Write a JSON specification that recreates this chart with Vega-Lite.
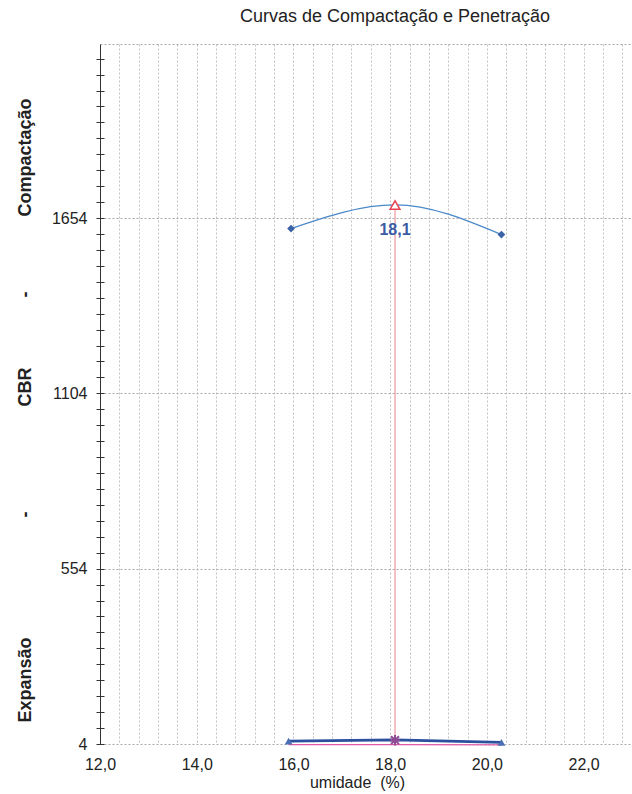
{
  "$schema": "https://vega.github.io/schema/vega-lite/v6.json",
  "width": 532,
  "height": 700,
  "autosize": {"type": "none"},
  "padding": {"left": 100, "top": 44, "right": 0, "bottom": 50},
  "background": "white",
  "title": {"text": "Curvas de Compactação e Penetração", "fontSize": 18, "fontWeight": "normal", "font": "Liberation Sans", "color": "#222222", "anchor": "middle", "dx": 29, "offset": 18},
  "config": {"view": {"stroke": null}},
  "datasets": {
    "compactacao": [{"umidade": 15.95, "valor": 1621}, {"umidade": 18.1, "valor": 1695}, {"umidade": 20.3, "valor": 1602}],
    "pontos": [{"umidade": 15.95, "valor": 1621}, {"umidade": 20.3, "valor": 1602}],
    "maximo": [{"umidade": 18.1, "valor": 1695, "rotulo": "18,1"}],
    "cbr": [{"umidade": 15.9, "valor": 13}, {"umidade": 18.1, "valor": 17}, {"umidade": 20.3, "valor": 9}],
    "cbrmax": [{"umidade": 18.1, "valor": 16}],
    "expansao": [{"umidade": 15.9, "valor": 2}, {"umidade": 18.1, "valor": 2}, {"umidade": 20.3, "valor": 1.5}]
  },
  "resolve": {"axis": {"x": "independent", "y": "independent"}},
  "layer": [
    {
      "data": {"name": "pontos"},
      "mark": {"type": "point", "opacity": 0},
      "encoding": {
        "x": {"field": "umidade", "type": "quantitative", "scale": {"domain": [12, 23], "nice": false, "zero": false},
          "axis": {"orient": "bottom", "values": [12, 12.4, 12.8, 13.2, 13.6, 14, 14.4, 14.8, 15.2, 15.6, 16, 16.4, 16.8, 17.2, 17.6, 18, 18.4, 18.8, 19.2, 19.6, 20, 20.4, 20.8, 21.2, 21.6, 22, 22.4, 22.8],
            "grid": true, "gridColor": "#c2c2c2", "gridDash": [2, 2], "gridWidth": 1, "labels": false, "ticks": false, "domain": false, "title": null}},
        "y": {"field": "valor", "type": "quantitative", "scale": {"domain": [4, 2200], "nice": false, "zero": false},
          "axis": {"orient": "left", "values": [4, 554, 1104, 1654, 2200], "grid": true, "gridColor": "#a8a8a8", "gridDash": [2, 2], "gridWidth": 1, "labels": false, "ticks": false, "domain": false, "title": null}}
      }
    },
    {
      "data": {"name": "pontos"},
      "mark": {"type": "point", "opacity": 0},
      "encoding": {
        "x": {"field": "umidade", "type": "quantitative",
          "axis": {"orient": "bottom", "values": [12, 14, 16, 18, 20, 22], "labelExpr": "replace(format(datum.value, '.1f'), '.', ',')", "labelFlush": false,
            "grid": false, "ticks": false, "domain": false, "labelFont": "Liberation Sans", "labelFontSize": 16, "labelColor": "#222222", "labelPadding": 12, "labelBaseline": "top",
            "title": "umidade\u00a0\u00a0(%)", "titleFont": "Liberation Sans", "titleFontSize": 16, "titleFontWeight": "normal", "titleColor": "#222222", "titleX": 257, "titleY": 38, "titleBaseline": "middle", "titleAnchor": null}},
        "y": {"field": "valor", "type": "quantitative",
          "axis": {"orient": "left", "values": [4, 554, 1104, 1654], "format": "d", "labelFlush": false, "grid": false, "ticks": false, "domain": true, "domainColor": "#333333", "domainWidth": 1,
            "labelFont": "Liberation Sans", "labelFontSize": 16, "labelColor": "#222222", "labelPadding": 13,
            "title": "Expansão\u00a0\u00a0\u00a0\u00a0\u00a0\u00a0\u00a0\u00a0\u00a0\u00a0\u00a0\u00a0\u00a0\u00a0\u00a0\u00a0\u00a0\u00a0\u00a0\u00a0\u00a0\u00a0\u00a0\u00a0-\u00a0\u00a0\u00a0\u00a0\u00a0\u00a0\u00a0\u00a0\u00a0\u00a0\u00a0\u00a0\u00a0\u00a0\u00a0\u00a0\u00a0\u00a0\u00a0\u00a0\u00a0CBR\u00a0\u00a0\u00a0\u00a0\u00a0\u00a0\u00a0\u00a0\u00a0\u00a0\u00a0\u00a0\u00a0\u00a0-\u00a0\u00a0\u00a0\u00a0\u00a0\u00a0\u00a0\u00a0\u00a0\u00a0\u00a0\u00a0\u00a0\u00a0\u00a0Compactação",
            "titleFont": "Liberation Sans", "titleFontSize": 18, "titleFontWeight": "bold", "titleColor": "#222222", "titleAngle": -90, "titleX": -75, "titleY": 366, "titleAlign": "center", "titleBaseline": "middle", "titleAnchor": null}}
      }
    },
    {
      "data": {"name": "pontos"},
      "mark": {"type": "point", "opacity": 0},
      "encoding": {
        "x": {"field": "umidade", "type": "quantitative", "axis": null},
        "y": {"field": "valor", "type": "quantitative",
          "axis": {"orient": "left", "values": [4, 54, 104, 154, 204, 254, 304, 354, 404, 454, 504, 554, 604, 654, 704, 754, 804, 854, 904, 954, 1004, 1054, 1104, 1154, 1204, 1254, 1304, 1354, 1404, 1454, 1504, 1554, 1604, 1654, 1704, 1754, 1804, 1854, 1904, 1954, 2004, 2054, 2104, 2154],
            "grid": false, "labels": false, "domain": false, "ticks": true, "tickSize": 8, "offset": -4, "tickColor": "#333333", "tickWidth": 1, "title": null}}
      }
    },
    {
      "data": {"name": "maximo"},
      "mark": {"type": "rule", "color": "#e8808c", "strokeWidth": 1},
      "encoding": {
        "x": {"field": "umidade", "type": "quantitative", "axis": null},
        "y": {"field": "valor", "type": "quantitative", "axis": null},
        "y2": {"datum": 4}
      }
    },
    {
      "data": {"name": "expansao"},
      "mark": {"type": "line", "color": "#e05aa8", "strokeWidth": 1.3},
      "encoding": {
        "x": {"field": "umidade", "type": "quantitative", "axis": null},
        "y": {"field": "valor", "type": "quantitative", "axis": null}
      }
    },
    {
      "data": {"name": "cbr"},
      "mark": {"type": "line", "color": "#2c4f9e", "strokeWidth": 2.6},
      "encoding": {
        "x": {"field": "umidade", "type": "quantitative", "axis": null},
        "y": {"field": "valor", "type": "quantitative", "axis": null}
      }
    },
    {
      "data": {"name": "cbr"},
      "transform": [{"filter": "datum.umidade != 18.1"}],
      "mark": {"type": "point", "shape": "triangle-up", "filled": true, "color": "#4a6fb5", "size": 60, "opacity": 1},
      "encoding": {
        "x": {"field": "umidade", "type": "quantitative", "axis": null},
        "y": {"field": "valor", "type": "quantitative", "axis": null}
      }
    },
    {
      "data": {"name": "cbrmax"},
      "mark": {"type": "point", "shape": "M-1,0L1,0M0,-1L0,1M-0.75,-0.75L0.75,0.75M-0.75,0.75L0.75,-0.75", "filled": false, "color": "#8e4a92", "strokeWidth": 2, "size": 110, "opacity": 1},
      "encoding": {
        "x": {"field": "umidade", "type": "quantitative", "axis": null},
        "y": {"field": "valor", "type": "quantitative", "axis": null}
      }
    },
    {
      "data": {"name": "compactacao"},
      "mark": {"type": "line", "color": "#4a88c8", "strokeWidth": 1.3, "interpolate": "monotone"},
      "encoding": {
        "x": {"field": "umidade", "type": "quantitative", "axis": null},
        "y": {"field": "valor", "type": "quantitative", "axis": null}
      }
    },
    {
      "data": {"name": "pontos"},
      "mark": {"type": "point", "shape": "diamond", "filled": true, "color": "#3c63a8", "size": 60, "opacity": 1},
      "encoding": {
        "x": {"field": "umidade", "type": "quantitative", "axis": null},
        "y": {"field": "valor", "type": "quantitative", "axis": null}
      }
    },
    {
      "data": {"name": "maximo"},
      "mark": {"type": "point", "shape": "triangle-up", "filled": true, "fill": "white", "stroke": "#e8404f", "strokeWidth": 1.5, "size": 95, "opacity": 1},
      "encoding": {
        "x": {"field": "umidade", "type": "quantitative", "axis": null},
        "y": {"field": "valor", "type": "quantitative", "axis": null}
      }
    },
    {
      "data": {"name": "maximo"},
      "mark": {"type": "text", "font": "Liberation Sans", "fontSize": 16, "fontWeight": "bold", "color": "#3b5ba5", "dy": 25, "align": "center", "baseline": "middle"},
      "encoding": {
        "x": {"field": "umidade", "type": "quantitative", "axis": null},
        "y": {"field": "valor", "type": "quantitative", "axis": null},
        "text": {"field": "rotulo"}
      }
    }
  ]
}
